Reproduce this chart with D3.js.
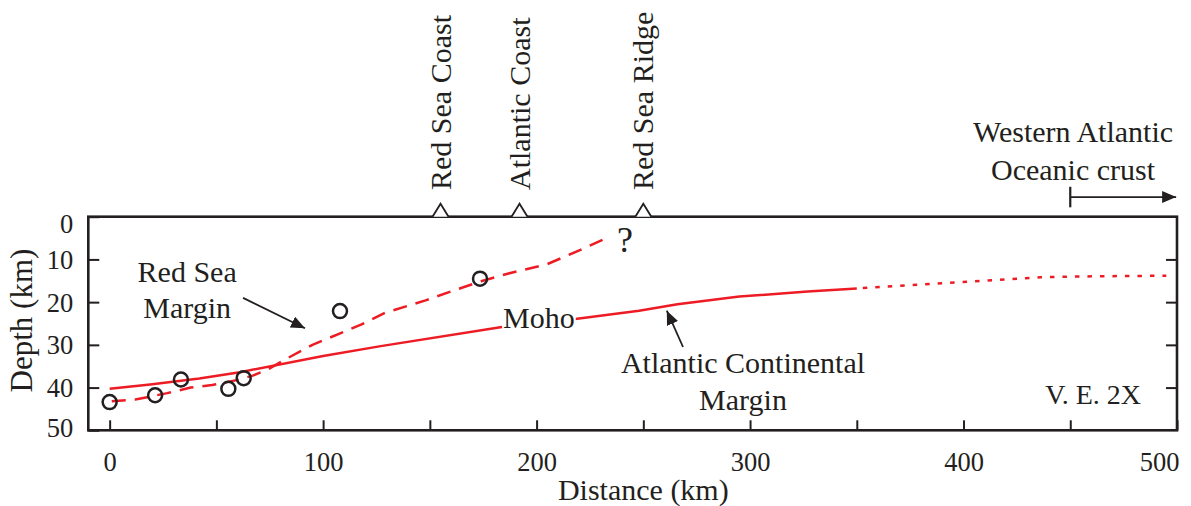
<!DOCTYPE html>
<html>
<head>
<meta charset="utf-8">
<script src="https://cdn.jsdelivr.net/npm/d3@7"></script>
<style>
  html, body { margin: 0; padding: 0; background: #fff; }
  svg { display: block; }
  text { font-family: "Liberation Serif", "Times New Roman", serif; fill: #231f20; }
</style>
</head>
<body>
<svg id="chart" width="1191" height="506"></svg>
<script>
// ---------- data ----------
// Atlantic continental margin Moho (distance km, depth km) – solid part
const atlanticMoho = [[0,40.3],[19,39.3],[42,37.9],[61,36.4],[100,32.6],[127,30.3],[183,25.9],[219,23.9],[248,22.0],[266,20.5],[295,18.7],[327,17.5],[350,16.8]];
// Western Atlantic oceanic continuation – dotted part
const oceanicMoho = [[350,16.8],[373,16.1],[405,15.1],[436,14.2],[452,14.0],[495,13.8]];
// Red Sea margin Moho – dashed
const redSeaMoho = [[1,43.2],[12,42.8],[27,41.3],[38,40.0],[48,39.4],[60,38.2],[67,37.2],[74,35.8],[83,33.2],[95,30.0],[108,27.3],[118,25.2],[129,22.5],[148,19.6],[161,17.3],[174,15.1],[186,13.4],[205,11.1],[220,7.9],[232,5.2]];
// Red Sea seismic observations
const redSeaPoints = [[0,43.4],[21.3,41.8],[33.4,38.1],[55.6,40.3],[62.8,37.8],[107.9,22.1],[173.5,14.5]];
// Top markers
const topMarkers = ["Red Sea Coast","Atlantic Coast","Red Sea Ridge"];
const topMarkerKm = [155, 192, 250];
// Axis ticks
const xTickValues = [0,50,100,150,200,250,300,350,400,450,500];
const xLabelValues = [0,100,200,300,400,500];
const yTickValues = [0,10,20,30,40,50];

// ---------- setup ----------
const svg = d3.select("#chart");
const ink = "#231f20", red = "#ed1c24";
const pL = 88.3, pR = 1177, pT = 216.7, pB = 430.3;
const x = d3.scaleLinear().domain([-10, 500]).range([pL, pR]);
const y = d3.scaleLinear().domain([0, 50]).range([pT, pB]);

const defs = svg.append("defs");
defs.append("marker").attr("id","head").attr("markerUnits","userSpaceOnUse")
  .attr("markerWidth",16).attr("markerHeight",14).attr("refX",14).attr("refY",6)
  .attr("orient","auto")
  .append("path").attr("d","M0,0 L14,6 L0,12 Z").attr("fill", ink);

// ---------- axes ----------
const fmtX = d => xLabelValues.includes(d) ? d : "";
const xAxis = svg.append("g").attr("transform", `translate(0,${pB})`)
  .call(d3.axisBottom(x).tickValues(xTickValues).tickSizeInner(-10).tickSizeOuter(0).tickPadding(22).tickFormat(fmtX));
xAxis.select(".domain").remove();
xAxis.selectAll("line").attr("stroke", ink).attr("stroke-width", 2);
xAxis.selectAll("text").attr("font-size", 26.5).attr("fill", ink)
  .attr("font-family", '"Liberation Serif", serif')
  .attr("dx", d => d === 500 ? -18 : 0);

const yAxis = svg.append("g").attr("transform", `translate(${pL},0)`)
  .call(d3.axisLeft(y).tickValues(yTickValues).tickSizeInner(-11).tickSizeOuter(0).tickPadding(15));
yAxis.select(".domain").remove();
yAxis.selectAll("line").attr("stroke", ink).attr("stroke-width", 2);
yAxis.selectAll("text").attr("font-size", 26.5).attr("fill", ink)
  .attr("font-family", '"Liberation Serif", serif')
  .attr("dy", d => d === 0 ? "0.58em" : d === 50 ? "0.22em" : "0.34em");

const yAxisR = svg.append("g").attr("transform", `translate(${pR},0)`)
  .call(d3.axisRight(y).tickValues(yTickValues.slice(1, -1)).tickSizeInner(-11).tickSizeOuter(0).tickFormat(""));
yAxisR.select(".domain").remove();
yAxisR.selectAll("line").attr("stroke", ink).attr("stroke-width", 2);

// frame
svg.append("rect").attr("x", pL).attr("y", pT).attr("width", pR - pL).attr("height", pB - pT)
  .attr("fill", "none").attr("stroke", ink).attr("stroke-width", 2.6);

// axis titles
svg.append("text").attr("x", x(250)).attr("y", 500).attr("text-anchor","middle").attr("font-size", 30).text("Distance (km)");
svg.append("text").attr("transform", `translate(32,${y(24.3)}) rotate(-90)`).attr("text-anchor","middle").attr("font-size", 31).text("Depth (km)");

// ---------- lines ----------
const line = d3.line().x(d => x(d[0])).y(d => y(d[1]));
svg.append("path").datum(redSeaMoho).attr("d", line).attr("fill","none").attr("stroke", red)
  .attr("stroke-width", 2.5).attr("stroke-dasharray", "14,9");
svg.append("path").datum(atlanticMoho).attr("d", line).attr("fill","none").attr("stroke", red)
  .attr("stroke-width", 2.5);
svg.append("path").datum(oceanicMoho).attr("d", line).attr("fill","none").attr("stroke", red)
  .attr("stroke-width", 2.5).attr("stroke-dasharray", "4.5,8").attr("stroke-dashoffset", -6);

// points
svg.append("g").selectAll("circle").data(redSeaPoints).join("circle")
  .attr("cx", d => x(d[0])).attr("cy", d => y(d[1])).attr("r", 7)
  .attr("fill", "none").attr("stroke", ink).attr("stroke-width", 2.5);

// ---------- top markers ----------
const tm = svg.append("g");
topMarkers.forEach((name, i) => {
  const cx = x(topMarkerKm[i]);
  tm.append("path").attr("d", `M${cx-8},${pT} L${cx},${pT-13} L${cx+8},${pT}`)
    .attr("fill", "#fff").attr("stroke", ink).attr("stroke-width", 1.8);
  tm.append("text").attr("transform", `translate(${cx+10},190) rotate(-90)`)
    .attr("font-size", 30).text(name);
});

// ---------- annotations ----------
const ann = (txt, kx, dy, size, opts = {}) => {
  const t = svg.append("text").attr("x", x(kx)).attr("y", y(dy)).attr("text-anchor","middle")
    .attr("font-size", size).text(txt);
  if (opts.family) t.attr("font-family", opts.family);
  return t;
};
ann("Red Sea", 36.3, 15.2, 30);
ann("Margin", 36.3, 23.7, 30);
ann("Atlantic Continental", 296.7, 36.6, 30);
ann("Margin", 296.7, 45.2, 30);
ann("V. E. 2X", 460.7, 43.8, 28);
ann("Western Atlantic", 451.3, -17.6, 30);
ann("Oceanic crust", 451.3, -8.6, 30);
ann("?", 241.4, 8.2, 36, {family: '"Liberation Sans", Arial, sans-serif'});

// Moho label with knock-out background
const moho = ann("Moho", 201.1, 26.1, 30);
const bb = moho.node().getBBox();
svg.insert("rect", () => moho.node()).attr("x", bb.x - 1).attr("y", bb.y + 5).attr("width", bb.width + 2).attr("height", bb.height - 10).attr("fill", "#fff");

// arrows
svg.append("line").attr("x1", x(62.5)).attr("y1", y(19.0)).attr("x2", x(91.5)).attr("y2", y(26.1))
  .attr("stroke", ink).attr("stroke-width", 1.8).attr("marker-end", "url(#head)");
svg.append("line").attr("x1", x(268.6)).attr("y1", y(30.5)).attr("x2", x(261)).attr("y2", y(22))
  .attr("stroke", ink).attr("stroke-width", 1.8).attr("marker-end", "url(#head)");

// oceanic crust bracket arrow
svg.append("line").attr("x1", x(450)).attr("y1", y(-7)).attr("x2", x(450)).attr("y2", y(-2.2))
  .attr("stroke", ink).attr("stroke-width", 2.2);
svg.append("line").attr("x1", x(450)).attr("y1", y(-4.6)).attr("x2", x(499.6)).attr("y2", y(-4.6))
  .attr("stroke", ink).attr("stroke-width", 1.8).attr("marker-end", "url(#head)");
</script>
</body>
</html>
